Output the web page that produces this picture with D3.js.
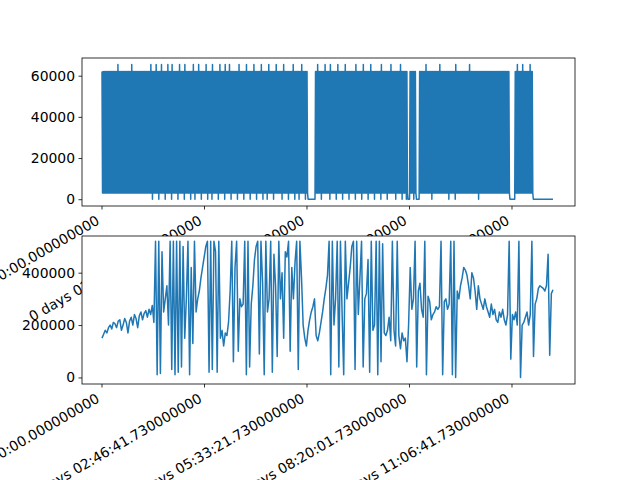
<!DOCTYPE html>
<html><head><meta charset="utf-8">
<script src="https://cdn.jsdelivr.net/npm/d3@7"></script>
<style>body{margin:0;background:#fff}text{font-family:"DejaVu Sans";font-size:13.9px}</style>
</head><body><svg id="c" width="640" height="480"></svg>
<script>
// x tick positions (seconds) and labels
const tickSeconds = [0, 10001.73, 20001.73, 30001.73, 40001.73];
const tickLabels = ["0 days 00:00:00.000000000","0 days 02:46:41.730000000","0 days 05:33:21.730000000","0 days 08:20:01.730000000","0 days 11:06:41.730000000"];
const topYTicks = [0, 20000, 40000, 60000];
const botYTicks = [0, 200000, 400000];
const endSeconds = 44000;
// top series, one code per swing (peak, trough): H/L=(62000,3000) T=(65500,3000) Z=(62000,0) G=(0,0)
const topCodePairs = {H:[62000,3000], L:[62000,3000], T:[65500,3000], Z:[62000,0], G:[0,0]};
const topCodes = [
 "HLHLHLHLHLHLHLHTHLHLHLHLHLHLTLHLHLHLHLHLHLHLHL",
 "TZHLHTHZHLTLHZHLTLHZTLHLHZHTHLHZTLHLHZHLTZHLHTHZHLHLTZHLHZTLHLHZHTHL",
 "HZTLHLTZHLHLHZHTHLHZHLTLHZHLHTHZHLHLTZHLHZHTHLHZHLTLHLHZHTHLHZHLHLTZ",
 "HLHZHLTLHZHL",
 "GGGGGGG",
 "HLTLHZHLHTHLHZTLHLHZHTHLHZHLTLHZHLHLHZTLHLHZHTHLHZHLTLHZHLHLHZTLHLHZHL",
 "HTHLHZHLHLTZHLHZH",
 "GG",
 "HLHZHL",
 "GGG",
 "HLHLHLTLHLHZHLHLHLHTHLHLHLHZHLHLHZTLHLHLHLHLHLHTHLHLHLHZHLHLHLHLHLHLHLHLHLHLHLHLHLHLH",
 "GGGGG",
 "HLTLHLHTHLHLHLTLH",
 "GGGGGGGGGGGGGGGGGGG"
].join("");
const topValues = topCodes.split("").flatMap(c => topCodePairs[c]);
// bottom series values (thousands), evenly sampled
const botValuesK = [
 150,165,180,170,190,200,185,210,205,190,215,220,180,200,225,210,170,215,230,200,240,225,190,235,250,220,245,255,230,
 260,240,275,210,520,
 10,520,15,480,250,300,350,200,520,30,520,
 10,520,20,520,40,500,150,300,520,10,420,130,520,
 250,300,330,380,420,460,500,520,20,520,30,520,480,20,520,150,180,
 120,170,160,210,330,520,60,420,520,100,300,270,280,520,10,520,40,280,350,
 450,500,520,90,520,360,10,520,250,300,520,20,470,350,80,520,300,400,150,
 480,460,520,100,420,300,440,520,30,520,380,200,150,120,180,220,250,270,300,
 160,140,170,210,250,300,340,390,520,10,520,200,300,520,40,
 520,250,10,520,300,360,420,500,520,30,520,240,380,520,40,
 300,320,450,20,520,180,200,520,10,520,60,510,170,160,180,
 230,140,520,180,120,520,160,110,170,140,150,60,200,420,260,
 300,520,40,330,360,260,230,520,10,310,290,220,240,250,270,
 260,270,520,10,290,300,260,280,520,10,520,0,330,300,350,
 380,420,410,390,350,300,400,380,330,260,350,300,280,260,300,
 270,250,230,280,240,260,220,210,250,230,260,220,200,240,520,
 70,240,220,250,200,520,0,200,210,230,250,200,240,520,80,
 280,300,340,350,345,340,330,350,470,85,320,335
];
const topData = topValues.map((v,i)=>({t:i*endSeconds/(topValues.length-1), v}));
const botData = botValuesK.map((v,i)=>({t:i*endSeconds/(botValuesK.length-1), v:v*1000}));

const svg = d3.select("#c");
const L=82, R=575, color="#1f77b4";
const x = d3.scaleLinear().domain([-1951, 46150]).range([L,R]);
const panels = [
 {top:58, bot:206, data:topData, y:d3.scaleLinear().domain([-3300,68600]).range([206,58]), ticks:topYTicks},
 {top:236, bot:384, data:botData, y:d3.scaleLinear().domain([-25000,540000]).range([384,236]), ticks:botYTicks}
];
panels.forEach(p=>{
  const g = svg.append("g");
  g.append("rect").attr("x",L).attr("y",p.top).attr("width",R-L).attr("height",p.bot-p.top).attr("fill","#fff");
  const cp = "cp"+p.top;
  g.append("clipPath").attr("id",cp).append("rect").attr("x",L).attr("y",p.top).attr("width",R-L).attr("height",p.bot-p.top);
  g.append("path").datum(p.data).attr("clip-path",`url(#${cp})`)
   .attr("d",d3.line().x(d=>x(d.t)).y(d=>p.y(d.v)))
   .attr("fill","none").attr("stroke",color).attr("stroke-width",1.5).attr("stroke-linejoin","round");
  g.append("rect").attr("x",L).attr("y",p.top).attr("width",R-L).attr("height",p.bot-p.top).attr("fill","none").attr("stroke","#000").attr("stroke-width",0.8);
  const ya = d3.axisLeft(p.y).tickValues(p.ticks).tickSize(3.5).tickPadding(3.5).tickFormat(d3.format("d"));
  const yg = g.append("g").attr("transform",`translate(${L},0)`).call(ya);
  yg.select(".domain").remove();
  yg.selectAll("line").attr("stroke-width",0.8);
  yg.selectAll("text").style("font-size","13.9px").attr("fill","#000");
  const xg = g.append("g");
  tickSeconds.forEach((s,i)=>{
    const tx = x(s);
    xg.append("line").attr("x1",tx).attr("x2",tx).attr("y1",p.bot).attr("y2",p.bot+3.5).attr("stroke","#000").attr("stroke-width",0.8);
    xg.append("text").attr("text-anchor","end")
      .attr("transform",`translate(${tx},${p.bot+7+13}) rotate(-30)`).attr("dy","-3")
      .text(tickLabels[i]);
  });
});
</script></body></html>
